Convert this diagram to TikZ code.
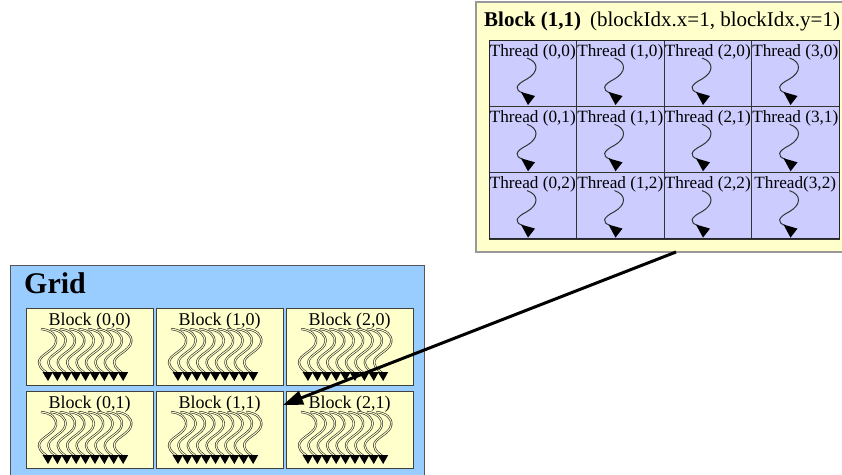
\documentclass[tikz,border=0pt]{standalone}
\usepackage{fontspec}
\setmainfont{Liberation Serif}
\usetikzlibrary{arrows.meta,calc}
\definecolor{gridblue}{HTML}{99CCFF}
\definecolor{blockyel}{HTML}{FFFFCC}
\definecolor{threadlav}{HTML}{CCCCFF}
\definecolor{edgegray}{HTML}{555555}
\tikzset{
 gridbox/.style={draw=edgegray, line width=1pt, fill=gridblue, anchor=north west, minimum width=414pt, minimum height=220pt, inner sep=0pt, outer sep=0pt},
 gblock/.style={draw=black!75, line width=0.8pt, fill=blockyel, anchor=north west, minimum width=127pt, minimum height=77pt, inner sep=0pt, outer sep=0pt},
 gtitle/.style={anchor=base, font=\fontsize{18}{18}\selectfont, inner sep=0pt},
 detailbox/.style={draw=gray!80, line width=1.2pt, fill=blockyel, anchor=north west, minimum width=380pt, minimum height=250pt, inner sep=0pt, outer sep=0pt},
 tcell/.style={draw=black!80, line width=0.8pt, fill=threadlav, anchor=north west, minimum width=87.5pt, minimum height=66.3pt, inner sep=0pt, outer sep=0pt},
 ttitle/.style={anchor=base, font=\fontsize{17.2}{17}\selectfont, inner sep=0pt},
 squig/.style={line width=1pt, draw=black!80},
 bundle/.style={draw=black!85, line width=0.6pt, double=blockyel, double distance=1pt},
 bigarrow/.style={line width=3pt, -{Triangle[length=20pt,width=14pt]}},
 threadpic/.pic={\draw[squig] (38,18) .. controls (50,22) and (50,32) .. (38,39) .. controls (26,45) and (25,50) .. (34,53); \fill[black] (32,52) -- (46,56) -- (39,65) -- cycle;},
 onethread/.pic={\draw[bundle] (0,0) .. controls (10,1) and (16,6) .. (15,13) .. controls (14,22) and (-3,26) .. (-2,34) .. controls (-1,40) and (4,42) .. (6,44); \fill[black] (1.5,43) -- (12,43) -- (7,52) -- cycle;},
}
\begin{document}
\begin{tikzpicture}[x=1pt,y=-1pt]
\fill[white] (0,0) rectangle (842,474);
\useasboundingbox (0,0) rectangle (842,474);
% Grid
\node[gridbox] (grid) at (10,265) {};
\node[anchor=base west, inner sep=0pt, font=\bfseries\fontsize{30}{30}\selectfont] (gridt) at (24,293) {Grid};
\foreach \c/\x in {0/26,1/156,2/286} {
 \foreach \r/\y in {0/308,1/391} {
  \node[gblock] (b\c\r) at (\x,\y) {};
  \node[gtitle] (bl\c\r) at ([yshift=-17pt]b\c\r.north) {Block (\c,\r)};
  \foreach \i in {0,...,8} {
   \pic at ($(b\c\r.north west)+(15+9.4*\i,21)$) {onethread};
  }
 }
}
% Block detail
\node[detailbox] (detail) at (476,2) {};
\node[anchor=base west, inner sep=0pt, font=\fontsize{21}{21}\selectfont] (dt) at (484,26) {\textbf{Block (1,1)}\hspace{9pt}(blockIdx.x=1, blockIdx.y=1)};
\foreach \c in {0,1,2,3} {
 \foreach \r in {0,1,2} {
  \node[tcell] (t\c\r) at ({489+87.5*\c},{40+66.3*\r}) {};
  \node[ttitle] (tl\c\r) at ([yshift=-16pt]t\c\r.north) {\ifnum\c\r=32 Thread(3,2)\else Thread (\c,\r)\fi};
  \pic at (t\c\r.north west) {threadpic};
 }
}
\draw[line width=1pt, black!85] (t00.north west) rectangle (t32.south east);
% connector
\draw[bigarrow] ([xshift=200pt]detail.south west) -- ([yshift=-14pt]b11.north east);
\end{tikzpicture}
\end{document}
